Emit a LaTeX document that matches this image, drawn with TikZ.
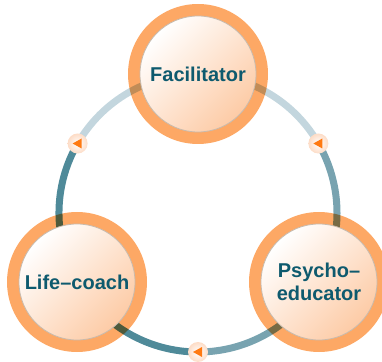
\documentclass[tikz,border=0pt]{standalone}
\usepackage{fontspec}
\setmainfont{Liberation Sans}
\usetikzlibrary{calc}
\definecolor{ringorange}{HTML}{FDA865}
\definecolor{peach}{HTML}{FDCBA6}
\definecolor{markpeach}{HTML}{FDDCC6}
\definecolor{txt}{HTML}{0E5A6E}
\definecolor{arclight}{HTML}{C3D6DE}
\definecolor{arcdark}{HTML}{4F8A99}
\definecolor{arcmid}{HTML}{78A3B0}
\definecolor{tri}{HTML}{FF7A12}
\definecolor{rimgray}{HTML}{C8BBAE}
\tikzset{
  outerring/.style={fill=ringorange},
  innerdisk/.style={top color=white, bottom color=peach, shading angle=45, draw=rimgray, line width=0.8pt},
  rolelabel/.style={font=\bfseries\fontsize{20}{23}\selectfont, text=txt, align=center},
  cyclearc/.style={line width=7pt},
  markerdisk/.style={inner color=white, outer color=markpeach},
}
\begin{document}
\begin{tikzpicture}[x=1pt,y=1pt]
\useasboundingbox (0,0) rectangle (382,361);
\clip (0,0) rectangle (382,361);
\coordinate (O) at (198,148);
\coordinate (cF) at (198,287);
\coordinate (cL) at (77,79);
\coordinate (cP) at (319,79);
\coordinate (m1) at ($(O)+(150:139)$);
\coordinate (m2) at ($(O)+(30:139)$);
\coordinate (m3) at ($(O)+(270:139)$);
% orange rings
\fill[outerring] (cF) circle (70);
\fill[outerring] (cL) circle (70);
\fill[outerring] (cP) circle (70);
% cycle arcs
\begin{scope}[blend mode=multiply]
\draw[cyclearc, arclight] (m2) arc (30:150:139);
\draw[cyclearc, arcdark] (m1) arc (150:270:139);
\draw[cyclearc, arcmid] (m3) arc (270:390:139);
\end{scope}
% inner disks
\shadedraw[innerdisk] (cF) circle (58);
\shadedraw[innerdisk] (cL) circle (58);
\shadedraw[innerdisk] (cP) circle (58);
% labels
\node[rolelabel] (fac) at (cF) {Facilitator};
\node[rolelabel] (life) at (cL) {Life–coach};
\node[rolelabel] (psy) at (cP) {Psycho–\\educator};
% markers
\foreach \m in {m1,m2,m3}{
  \shade[markerdisk] (\m) circle (10);
  \fill[tri] ($(\m)+(-5,0)$) -- ++(9,5) -- ++(0,-10) -- cycle;
}
\end{tikzpicture}
\end{document}
